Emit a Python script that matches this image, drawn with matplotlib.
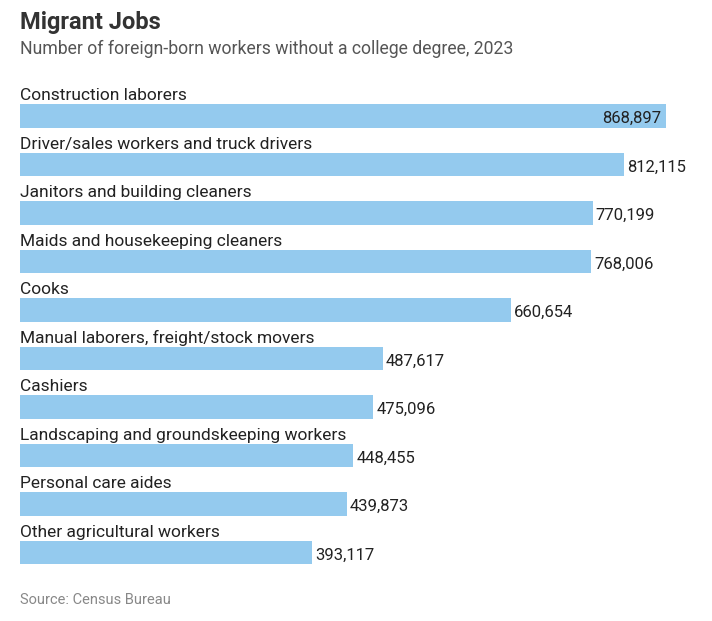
import matplotlib.pyplot as plt
from matplotlib import font_manager

# data
jobs = ["Construction laborers",
        "Driver/sales workers and truck drivers",
        "Janitors and building cleaners",
        "Maids and housekeeping cleaners",
        "Cooks",
        "Manual laborers, freight/stock movers",
        "Cashiers",
        "Landscaping and groundskeeping workers",
        "Personal care aides",
        "Other agricultural workers"]
workers = [868897, 812115, 770199, 768006, 660654,
           487617, 475096, 448455, 439873, 393117]

title = "Migrant Jobs"
subtitle = "Number of foreign-born workers without a college degree, 2023"
source = "Source: Census Bureau"

# pick a narrow-ish font if there is one
names = {f.name for f in font_manager.fontManager.ttflist}
fam = "Liberation Sans Narrow" if "Liberation Sans Narrow" in names else "Roboto"
plt.rcParams['font.family'] = [fam, 'DejaVu Sans']

bar_color = "#94caee"
text_color = "#222222"

fig = plt.figure(figsize=(7.12, 6.21), dpi=100)
W, H = 712, 621
# axes from x=20 px to 700 px, y=80 px to 580 px
ax = fig.add_axes([20 / W, 1 - 580 / H, 680 / W, 500 / H])

scale = 646 / 868897  # px per worker
ax.set_xlim(0, 680 / scale)
ax.set_ylim(-0.742 + 500 / 48.5, -0.742)

rows = list(range(len(jobs)))
bar_h = 0.48
ax.barh(rows, workers, height=bar_h, color=bar_color, edgecolor="none")

for i, (name, val) in enumerate(zip(jobs, workers)):
    ax.text(0, i - bar_h / 2 - 0.02, name, ha="left", va="bottom",
            fontsize=12.5, color=text_color)
    label = f"{val:,}"
    if val == max(workers):
        ax.text(val - 6000, i + 0.05, label, ha="right", va="center",
                fontsize=12, color=text_color)
    else:
        ax.text(val + 4000, i + 0.05, label, ha="left", va="center",
                fontsize=12, color=text_color)

ax.axis("off")

fig.text(20 / W, 1 - 23 / H, title, ha="left", va="center",
         fontsize=17, fontweight="bold", color="#333333")
fig.text(20 / W, 1 - 49 / H, subtitle, ha="left", va="center",
         fontsize=12.7, color="#555555")
fig.text(20 / W, 1 - 600 / H, source, ha="left", va="center",
         fontsize=10.5, color="#888888")

fig.savefig("out.png", dpi=100, facecolor="white")
